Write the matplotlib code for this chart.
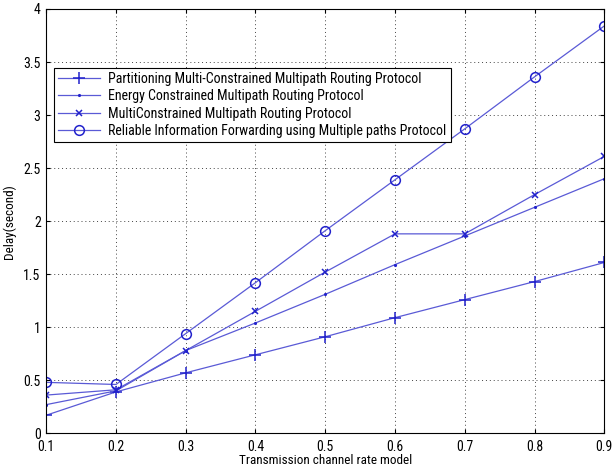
import numpy as np
import matplotlib
matplotlib.use('Agg')
import matplotlib.pyplot as plt

plt.rcParams['font.family'] = ['Roboto Condensed', 'Archivo Narrow', 'Liberation Sans']

# transmission channel rate
x = [0.1, 0.2, 0.3, 0.4, 0.5, 0.6, 0.7, 0.8, 0.9]

pmcmp = [0.17, 0.39, 0.57, 0.74, 0.91, 1.09, 1.26, 1.43, 1.61]
ecmp = [0.27, 0.40, 0.78, 1.04, 1.31, 1.59, 1.86, 2.13, 2.40]
mcmp = [0.36, 0.41, 0.78, 1.15, 1.52, 1.88, 1.88, 2.25, 2.61]
rifm = [0.48, 0.46, 0.94, 1.42, 1.91, 2.39, 2.87, 3.36, 3.84]

labels = ['Partitioning Multi-Constrained Multipath Routing Protocol',
          'Energy Constrained Multipath Routing Protocol',
          'MultiConstrained Multipath Routing Protocol',
          'Reliable Information Forwarding using Multiple paths Protocol']

linecol = '#5a5ad6'
markcol = '#2222cc'

fig = plt.figure(figsize=(6.16, 4.73), dpi=100)
ax = fig.add_axes([0.075, 0.084, 0.906, 0.897])

ax.plot(x, pmcmp, color=linecol, lw=0.9, marker='+', ms=8, mec=markcol, mew=1.1, label=labels[0])
ax.plot(x, ecmp, color=linecol, lw=0.9, marker='.', ms=2.5, mec=markcol, mfc=markcol, label=labels[1])
ax.plot(x, mcmp, color=linecol, lw=0.9, marker='x', ms=5, mec=markcol, mew=1.1, label=labels[2])
ax.plot(x, rifm, color=linecol, lw=0.9, marker='o', ms=7, mec=markcol, mfc='none', mew=1.1, label=labels[3])

ax.set_xlim(0.1, 0.9)
ax.set_ylim(0, 4)
ax.set_xticks(x)
ax.set_xticklabels(['0.1', '0.2', '0.3', '0.4', '0.5', '0.6', '0.7', '0.8', '0.9'])
ax.set_yticks([0, 0.5, 1, 1.5, 2, 2.5, 3, 3.5, 4])
ax.set_yticklabels(['0', '0.5', '1', '1.5', '2', '2.5', '3', '3.5', '4'])
ax.tick_params(direction='in', labelsize=10, length=3, top=True, right=True)
ax.tick_params(axis='x', pad=5)
ax.tick_params(axis='y', pad=4)
ax.grid(True, linestyle=(0, (1, 3)), color='#444444', lw=0.7)

ax.set_xlabel('Transmission channel rate model', fontsize=9.5, labelpad=0)
ax.set_ylabel('Delay(second)', fontsize=9.5, labelpad=5)

leg = ax.legend(loc='upper left', bbox_to_anchor=(0.0145, 0.862), borderaxespad=0,
                fontsize=10, fancybox=False, framealpha=1, edgecolor='black',
                handlelength=3, borderpad=0.3, labelspacing=0.25, handletextpad=0.6)
leg.get_frame().set_linewidth(0.8)

fig.savefig('out.png', dpi=100)
